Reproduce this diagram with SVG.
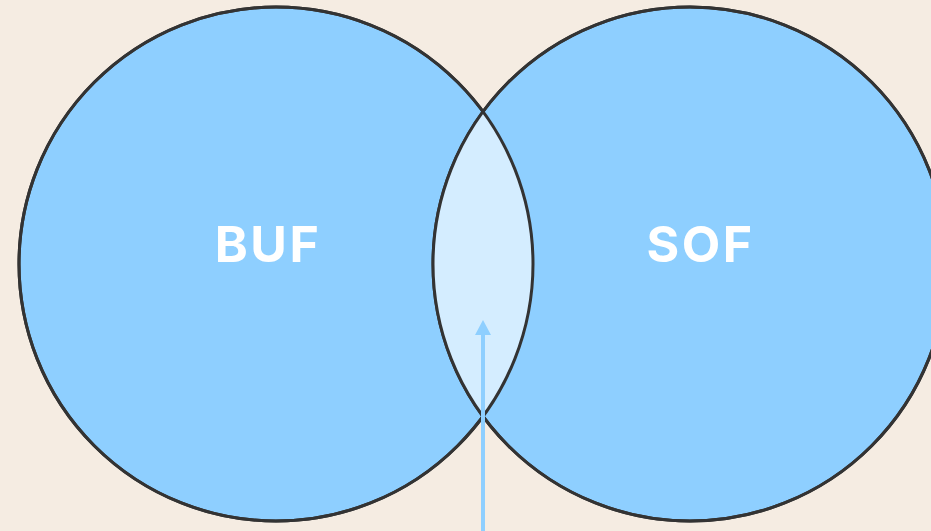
<svg xmlns="http://www.w3.org/2000/svg" width="931" height="531" viewBox="0 0 931 531">
<style>
.set{fill:#8ECFFF;stroke:#333333;stroke-width:3}
.lens{fill:#D4EDFF;stroke:none}
.outline{fill:none;stroke:#333333;stroke-width:3}
.lbl{font-family:"Inter","Open Sans","Liberation Sans",sans-serif;font-weight:700;font-size:50px;letter-spacing:2.5px;fill:#FFFFFF;text-anchor:middle}
</style>
<rect width="931" height="531" fill="#F5ECE2"/>
<g id="node-buf">
<circle class="set" cx="276" cy="264" r="257"/>
</g>
<g id="node-sof">
<circle class="set" cx="690" cy="264" r="257"/>
</g>
<g id="node-overlap">
<path class="lens" d="M483,112 A257,257 0 0 1 483,416 A257,257 0 0 1 483,112 Z"/>
<circle class="outline" cx="276" cy="264" r="257"/>
<circle class="outline" cx="690" cy="264" r="257"/>
</g>
<g id="labels">
<text class="lbl" x="268" y="261.5">BUF</text>
<text class="lbl" x="700.5" y="261.5">SOF</text>
</g>
<g id="connectors">
<path d="M483,531 L483,335" stroke="#8ECFFF" stroke-width="4" fill="none"/>
<path d="M475,335 L483,320 L491,335 Z" fill="#8ECFFF"/>
</g>
</svg>
